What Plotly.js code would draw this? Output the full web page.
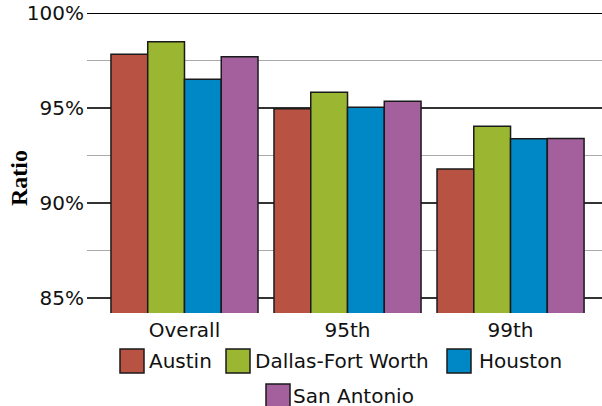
<!DOCTYPE html>
<html>
<head>
<meta charset="utf-8">
<script src="https://cdn.plot.ly/plotly-3.0.1.min.js"></script>
<style>html,body{margin:0;padding:0;background:#fff}#chart{width:602px;height:406px}</style>
</head>
<body>
<div id="chart"></div>
<script>
const categories = ["Overall", "95th", "99th"];
const seriesNames = ["Austin", "Dallas-Fort Worth", "Houston", "San Antonio"];
const austin = [97.83, 94.96, 91.79];
const dallas = [98.49, 95.83, 94.04];
const houston = [96.51, 95.04, 93.38];
const sanAntonio = [97.70, 95.35, 93.40];
const yTickVals = [85, 90, 95, 100];
const yTickText = ["85%", "90%", "95%", "100%"];
const yTitle = "Ratio";

const colors = ["#b85242", "#9bb630", "#0088c6", "#a3609c"];
const values = [austin, dallas, houston, sanAntonio];
const SANS = "'DejaVu Sans', 'Open Sans', sans-serif";

const traces = seriesNames.map((n, i) => ({
  type: "bar", name: n, x: categories, y: values[i], base: 0,
  marker: {color: colors[i], line: {color: "#1a1a1a", width: 1.5}},
  showlegend: false, hoverinfo: "skip"
}));

// manual legend (large square swatches, centered rows)
const W = 515, H = 300, L = 87, T = 13;
const px = v => (v - L) / W;
const py = v => (T + H - v) / H;
const legendPos = [
  {sx: 120, sy: 349, tx: 147},
  {sx: 226, sy: 349, tx: 253},
  {sx: 447, sy: 349, tx: 477},
  {sx: 266, sy: 384, tx: 291}
];
const shapes = [{
  type: "line", xref: "paper", x0: 0, x1: 1, yref: "y", y0: 100, y1: 100,
  line: {color: "#000", width: 2}
}];
const annotations = [];
seriesNames.forEach((n, i) => {
  const p = legendPos[i];
  shapes.push({type: "rect", xref: "paper", yref: "paper",
    x0: px(p.sx), x1: px(p.sx + 24), y0: py(p.sy), y1: py(p.sy + 24),
    fillcolor: colors[i], line: {color: "#1a1a1a", width: 1.5}});
  annotations.push({xref: "paper", yref: "paper", x: px(p.tx), y: py(p.sy + 12),
    xanchor: "left", yanchor: "middle", showarrow: false, text: n,
    font: {family: SANS, size: 20, color: "#111"}});
});
annotations.push({xref: "paper", yref: "paper", x: px(19), y: py(178),
  xanchor: "center", yanchor: "middle", showarrow: false, textangle: -90,
  text: "<b>" + yTitle + "</b>",
  font: {family: "'Liberation Serif', 'DejaVu Serif', serif", size: 24, color: "#000"}});

const layout = {
  width: 602, height: 406,
  margin: {l: L, r: 0, t: T, b: 406 - T - H, pad: 0},
  paper_bgcolor: "#fff", plot_bgcolor: "#fff",
  barmode: "group", bargap: 0.098, bargroupgap: 0,
  showlegend: false,
  font: {family: SANS, size: 20, color: "#111"},
  xaxis: {
    type: "category", range: [-0.598, 2.561], showgrid: false, zeroline: false,
    showline: false, ticks: "", ticklabelstandoff: 3,
    tickfont: {family: SANS, size: 20, color: "#111"}
  },
  yaxis: {
    range: [84.21, 100], tickvals: yTickVals, ticktext: yTickText,
    showgrid: true, gridcolor: "#333", gridwidth: 1.5, zeroline: false, showline: false,
    ticks: "", ticklabelstandoff: 2, ticklabeloverflow: "allow",
    tickfont: {family: SANS, size: 20, color: "#111"},
    minor: {dtick: 2.5, tick0: 85, showgrid: true, gridcolor: "#aaa", gridwidth: 1.5}
  },
  shapes: shapes, annotations: annotations
};

Plotly.newPlot("chart", traces, layout, {displayModeBar: false, staticPlot: true});
</script>
</body>
</html>
